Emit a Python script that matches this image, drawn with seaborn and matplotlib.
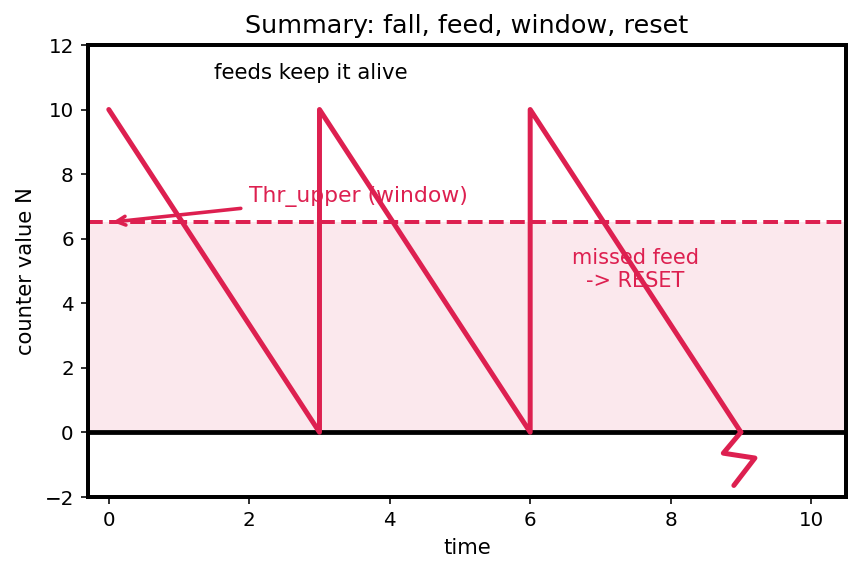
import numpy as np
import pandas as pd
import seaborn as sns
import matplotlib
matplotlib.use('Agg')
import matplotlib.pyplot as plt

# counter: falls, gets fed, falls, gets fed, falls, misses feed
t = [0, 3, 3, 6, 6, 9]
n = [10, 0, 10, 0, 10, 0]
# reset "bolt" below zero
bolt_t = [9.0, 8.75, 9.2, 8.9]
bolt_n = [0.0, -0.65, -0.8, -1.65]
thr_upper = 6.5

col = '#DD2050'
sns.set_style("ticks")
plt.rcParams['text.color'] = 'black'
plt.rcParams['axes.labelcolor'] = 'black'

fig, ax = plt.subplots(figsize=(6, 4), dpi=143.33)
fig.subplots_adjust(left=0.102, right=0.984, top=0.921, bottom=0.133)

data = pd.DataFrame({'time': t, 'N': n})
ax.axhspan(0, thr_upper, color=col, alpha=0.1, lw=0)
ax.axhline(thr_upper, color=col, ls='--', lw=2)
ax.axhline(0, color='black', lw=2.4)
sns.lineplot(data=data, x='time', y='N', sort=False, estimator=None,
             color=col, lw=2.5, ax=ax)
sns.lineplot(x=bolt_t, y=bolt_n, sort=False, estimator=None, color=col,
             lw=2.5, ax=ax, solid_capstyle='round')

ax.annotate('Thr_upper (window)', xy=(0, thr_upper), xytext=(2, 7.0),
            color=col, fontsize=11, va='bottom', ha='left',
            arrowprops=dict(arrowstyle='->', color=col, lw=1.8))
ax.text(1.5, 10.95, 'feeds keep it alive', fontsize=10.7, va='baseline')
ax.text(7.5, 5.05, 'missed feed\n-> RESET', color=col, fontsize=10.5,
        ha='center', va='center')

ax.set_xlim(-0.3, 10.5)
ax.set_ylim(-2, 12)
ax.set_xticks(range(0, 11, 2))
ax.set_yticks(range(-2, 13, 2))
ax.set_xlabel('time', fontsize=10.6)
ax.set_ylabel('counter value N', fontsize=10.6)
ax.set_title('Summary: fall, feed, window, reset', fontsize=12.8, color='black')
for s in ax.spines.values():
    s.set_visible(True)
    s.set_linewidth(2)
    s.set_color('black')
ax.tick_params(colors='black', labelsize=10)

fig.savefig('out.png')
